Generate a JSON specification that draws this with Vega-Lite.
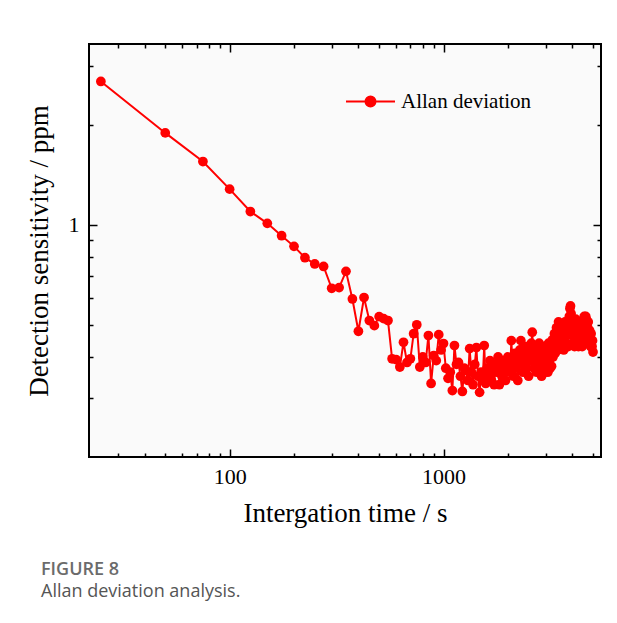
{
  "$schema": "https://vega.github.io/schema/vega-lite/v6.json",
  "width": 512,
  "height": 413,
  "autosize": {"type": "none"},
  "padding": {"left": 89, "top": 44, "right": 16, "bottom": 166},
  "background": "white",
  "config": {
    "view": {"fill": "#fafafa", "stroke": "black", "strokeWidth": 2},
    "axis": {"grid": false, "domain": false, "labelFont": "Liberation Serif", "titleFont": "Liberation Serif", "labelColor": "black", "titleColor": "black", "tickColor": "black", "tickWidth": 1.5, "labelFontSize": 22, "titleFontSize": 27, "titleFontWeight": "normal"}
  },
  "title": {"text": "FIGURE 8", "subtitle": "Allan deviation analysis.", "orient": "bottom", "anchor": "start", "frame": "group", "dx": -48, "offset": 35, "font": "Open Sans", "fontSize": 18, "fontWeight": 600, "color": "#6b6b6b", "subtitleFont": "Open Sans", "subtitleFontSize": 18, "subtitleColor": "#555555", "subtitlePadding": 4},
  "data": {"values": [
    {"t": 25, "d": 2.70}, {"t": 50, "d": 1.89}, {"t": 75, "d": 1.55}, {"t": 100, "d": 1.28}, {"t": 125, "d": 1.096},
    {"t": 150, "d": 1.01}, {"t": 175, "d": 0.927}, {"t": 200, "d": 0.861}, {"t": 225, "d": 0.796}, {"t": 250, "d": 0.762},
    {"t": 275, "d": 0.749}, {"t": 300, "d": 0.644}, {"t": 325, "d": 0.647}, {"t": 350, "d": 0.724}, {"t": 375, "d": 0.598},
    {"t": 400, "d": 0.478}, {"t": 425, "d": 0.604}, {"t": 450, "d": 0.515}, {"t": 475, "d": 0.497}, {"t": 500, "d": 0.529},
    {"t": 525, "d": 0.522}, {"t": 550, "d": 0.515}, {"t": 575, "d": 0.395}, {"t": 600, "d": 0.393}, {"t": 625, "d": 0.373},
    {"t": 650, "d": 0.443}, {"t": 675, "d": 0.385}, {"t": 700, "d": 0.395}, {"t": 725, "d": 0.470}, {"t": 750, "d": 0.500},
    {"t": 775, "d": 0.373}, {"t": 800, "d": 0.400}, {"t": 825, "d": 0.385}, {"t": 850, "d": 0.464}, {"t": 875, "d": 0.333},
    {"t": 900, "d": 0.404}, {"t": 925, "d": 0.390}, {"t": 950, "d": 0.467}, {"t": 975, "d": 0.420}, {"t": 1000, "d": 0.439},
    {"t": 1025, "d": 0.370}, {"t": 1050, "d": 0.345}, {"t": 1075, "d": 0.360}, {"t": 1100, "d": 0.317}, {"t": 1125, "d": 0.433},
    {"t": 1150, "d": 0.380}, {"t": 1175, "d": 0.385}, {"t": 1200, "d": 0.350}, {"t": 1225, "d": 0.315}, {"t": 1250, "d": 0.370},
    {"t": 1275, "d": 0.364}, {"t": 1300, "d": 0.340}, {"t": 1325, "d": 0.424}, {"t": 1350, "d": 0.360}, {"t": 1375, "d": 0.330},
    {"t": 1400, "d": 0.380}, {"t": 1425, "d": 0.427}, {"t": 1450, "d": 0.350}, {"t": 1475, "d": 0.313}, {"t": 1500, "d": 0.360},
    {"t": 1525, "d": 0.340}, {"t": 1550, "d": 0.433}, {"t": 1575, "d": 0.333}, {"t": 1600, "d": 0.370}, {"t": 1625, "d": 0.350},
    {"t": 1650, "d": 0.390}, {"t": 1675, "d": 0.340}, {"t": 1700, "d": 0.365}, {"t": 1725, "d": 0.330}, {"t": 1750, "d": 0.380},
    {"t": 1775, "d": 0.360}, {"t": 1800, "d": 0.400}, {"t": 1825, "d": 0.330}, {"t": 1850, "d": 0.370}, {"t": 1875, "d": 0.350},
    {"t": 1900, "d": 0.390}, {"t": 1925, "d": 0.360}, {"t": 1950, "d": 0.340}, {"t": 1975, "d": 0.372}, {"t": 2000, "d": 0.400},
    {"t": 2025, "d": 0.380}, {"t": 2050, "d": 0.360}, {"t": 2075, "d": 0.448}, {"t": 2100, "d": 0.390}, {"t": 2125, "d": 0.350},
    {"t": 2150, "d": 0.410}, {"t": 2175, "d": 0.370}, {"t": 2200, "d": 0.400}, {"t": 2225, "d": 0.340}, {"t": 2250, "d": 0.380},
    {"t": 2275, "d": 0.420}, {"t": 2300, "d": 0.448}, {"t": 2325, "d": 0.390}, {"t": 2350, "d": 0.360}, {"t": 2375, "d": 0.410},
    {"t": 2400, "d": 0.380}, {"t": 2425, "d": 0.430}, {"t": 2450, "d": 0.370}, {"t": 2475, "d": 0.400}, {"t": 2500, "d": 0.350},
    {"t": 2525, "d": 0.420}, {"t": 2550, "d": 0.390}, {"t": 2575, "d": 0.440}, {"t": 2600, "d": 0.475}, {"t": 2625, "d": 0.410},
    {"t": 2650, "d": 0.370}, {"t": 2675, "d": 0.430}, {"t": 2700, "d": 0.390}, {"t": 2725, "d": 0.360}, {"t": 2750, "d": 0.420},
    {"t": 2775, "d": 0.400}, {"t": 2800, "d": 0.440}, {"t": 2825, "d": 0.370}, {"t": 2850, "d": 0.410}, {"t": 2875, "d": 0.350},
    {"t": 2900, "d": 0.400}, {"t": 2925, "d": 0.430}, {"t": 2950, "d": 0.380}, {"t": 2975, "d": 0.360}, {"t": 3000, "d": 0.420},
    {"t": 3025, "d": 0.380}, {"t": 3050, "d": 0.410}, {"t": 3075, "d": 0.360}, {"t": 3100, "d": 0.440}, {"t": 3125, "d": 0.390},
    {"t": 3150, "d": 0.370}, {"t": 3175, "d": 0.420}, {"t": 3200, "d": 0.375}, {"t": 3225, "d": 0.450}, {"t": 3250, "d": 0.400},
    {"t": 3275, "d": 0.430}, {"t": 3300, "d": 0.470}, {"t": 3325, "d": 0.410}, {"t": 3350, "d": 0.440}, {"t": 3375, "d": 0.490},
    {"t": 3400, "d": 0.450}, {"t": 3425, "d": 0.420}, {"t": 3450, "d": 0.510}, {"t": 3475, "d": 0.470}, {"t": 3500, "d": 0.430},
    {"t": 3525, "d": 0.500}, {"t": 3550, "d": 0.460}, {"t": 3575, "d": 0.440}, {"t": 3600, "d": 0.490}, {"t": 3625, "d": 0.450},
    {"t": 3650, "d": 0.420}, {"t": 3675, "d": 0.480}, {"t": 3700, "d": 0.510}, {"t": 3725, "d": 0.460}, {"t": 3750, "d": 0.440},
    {"t": 3775, "d": 0.500}, {"t": 3800, "d": 0.470}, {"t": 3825, "d": 0.430}, {"t": 3850, "d": 0.490}, {"t": 3875, "d": 0.530},
    {"t": 3900, "d": 0.560}, {"t": 3925, "d": 0.570}, {"t": 3950, "d": 0.540}, {"t": 3975, "d": 0.500}, {"t": 4000, "d": 0.470},
    {"t": 4025, "d": 0.440}, {"t": 4050, "d": 0.500}, {"t": 4075, "d": 0.460}, {"t": 4100, "d": 0.430}, {"t": 4125, "d": 0.480},
    {"t": 4150, "d": 0.520}, {"t": 4175, "d": 0.470}, {"t": 4200, "d": 0.440}, {"t": 4225, "d": 0.490}, {"t": 4250, "d": 0.450},
    {"t": 4275, "d": 0.430}, {"t": 4300, "d": 0.470}, {"t": 4325, "d": 0.500}, {"t": 4350, "d": 0.460}, {"t": 4375, "d": 0.440},
    {"t": 4400, "d": 0.480}, {"t": 4425, "d": 0.450}, {"t": 4450, "d": 0.430}, {"t": 4475, "d": 0.470}, {"t": 4500, "d": 0.510},
    {"t": 4525, "d": 0.480}, {"t": 4550, "d": 0.530}, {"t": 4575, "d": 0.500}, {"t": 4600, "d": 0.460}, {"t": 4625, "d": 0.530},
    {"t": 4650, "d": 0.520}, {"t": 4675, "d": 0.480}, {"t": 4700, "d": 0.450}, {"t": 4725, "d": 0.490}, {"t": 4750, "d": 0.510},
    {"t": 4775, "d": 0.470}, {"t": 4800, "d": 0.440}, {"t": 4825, "d": 0.480}, {"t": 4850, "d": 0.460}, {"t": 4875, "d": 0.430},
    {"t": 4900, "d": 0.470}, {"t": 4925, "d": 0.450}, {"t": 4950, "d": 0.430}, {"t": 4975, "d": 0.448}, {"t": 5000, "d": 0.414}
  ]},
  "layer": [
    {
      "mark": {"type": "line", "color": "red", "strokeWidth": 2},
      "encoding": {
        "x": {"field": "t", "type": "quantitative", "scale": {"type": "log", "domain": [22, 5450], "nice": false},
              "axis": {"orient": "bottom", "values": [100, 1000], "format": "d", "ticks": false, "labelPadding": 9, "title": "Intergation time / s", "titlePadding": 13}},
        "y": {"field": "d", "type": "quantitative", "scale": {"type": "log", "domain": [0.2, 3.5], "nice": false},
              "axis": {"orient": "left", "values": [1], "format": "d", "ticks": false, "labelPadding": 10, "title": "Detection sensitivity / ppm", "titlePadding": 15}},
        "color": {"datum": "Allan deviation", "scale": {"range": ["red"]},
                  "legend": {"orient": "none", "legendX": 256, "legendY": 32, "title": null, "padding": 0,
                             "symbolType": "M-1,0H1M-0.204,0A0.204,0.204,0,1,0,0.204,0A0.204,0.204,0,1,0,-0.204,0Z",
                             "symbolSize": 2401, "symbolStrokeWidth": 2, "symbolFillColor": "red", "symbolStrokeColor": "red",
                             "labelFont": "Liberation Serif", "labelFontSize": 21, "labelColor": "black", "labelOffset": 5}}
      }
    },
    {
      "mark": {"type": "point", "filled": true, "color": "red", "size": 95, "opacity": 1},
      "encoding": {
        "x": {"field": "t", "type": "quantitative", "axis": {"orient": "bottom", "values": [100, 1000], "labels": false, "tickSize": -8, "title": null}},
        "y": {"field": "d", "type": "quantitative", "axis": {"orient": "left", "values": [1], "labels": false, "tickSize": -8, "title": null}}
      }
    },
    {
      "mark": {"type": "point", "opacity": 0},
      "encoding": {
        "x": {"field": "t", "type": "quantitative", "axis": {"orient": "bottom", "values": [30, 40, 50, 60, 70, 80, 90, 200, 300, 400, 500, 600, 700, 800, 900, 2000, 3000, 4000, 5000], "labels": false, "tickSize": -4, "title": null}},
        "y": {"field": "d", "type": "quantitative", "axis": {"orient": "left", "values": [0.3, 0.4, 0.5, 0.6, 0.7, 0.8, 0.9, 2, 3], "labels": false, "tickSize": -4, "title": null}}
      }
    },
    {
      "mark": {"type": "point", "opacity": 0},
      "encoding": {
        "x": {"field": "t", "type": "quantitative", "axis": {"orient": "top", "values": [100, 1000], "labels": false, "tickSize": -8, "title": null}},
        "y": {"field": "d", "type": "quantitative", "axis": {"orient": "right", "values": [1], "labels": false, "tickSize": -8, "title": null}}
      }
    },
    {
      "mark": {"type": "point", "opacity": 0},
      "encoding": {
        "x": {"field": "t", "type": "quantitative", "axis": {"orient": "top", "values": [30, 40, 50, 60, 70, 80, 90, 200, 300, 400, 500, 600, 700, 800, 900, 2000, 3000, 4000, 5000], "labels": false, "tickSize": -4, "title": null}},
        "y": {"field": "d", "type": "quantitative", "axis": {"orient": "right", "values": [0.3, 0.4, 0.5, 0.6, 0.7, 0.8, 0.9, 2, 3], "labels": false, "tickSize": -4, "title": null}}
      }
    }
  ],
  "resolve": {"axis": {"x": "independent", "y": "independent"}}
}
